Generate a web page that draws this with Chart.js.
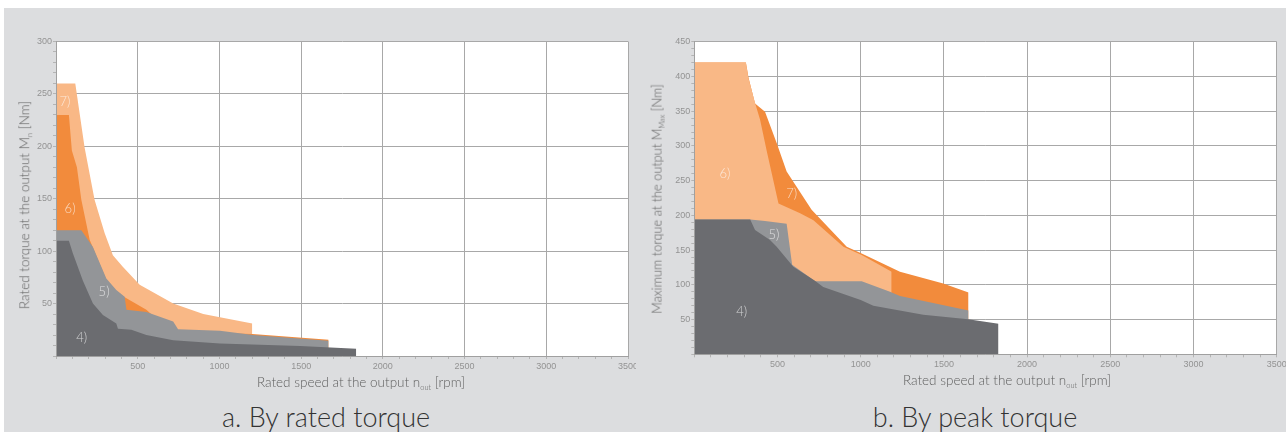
<!DOCTYPE html>
<html><head><meta charset="utf-8">
<script src="https://cdn.jsdelivr.net/npm/chart.js@4"></script>
<style>
html,body{margin:0;padding:0;background:#fff;}
body{width:1286px;height:432px;position:relative;overflow:hidden;font-family:"Liberation Sans",Arial,sans-serif;}
#bg{position:absolute;left:4px;top:8px;width:1282px;height:424px;background:#dcdddf;}
canvas{position:absolute;}
.t{position:absolute;white-space:nowrap;transform:translate(-50%,-50%);color:#606060;font-size:13.5px;line-height:1;font-family:Lato,"Liberation Sans",sans-serif;font-weight:300;}
.t sub{font-size:7.5px;vertical-align:-3px;line-height:0;}
.r{transform:translate(-50%,-50%) rotate(-90deg);}
.cap{position:absolute;white-space:nowrap;transform:translate(-50%,-50%);color:#333;font-size:27px;line-height:1;font-family:Lato,"Liberation Sans",sans-serif;font-weight:300;}
</style></head>
<body>
<div id="bg"></div>
<canvas id="c1" width="632" height="370" style="left:4px;top:8px;width:632px;height:370px"></canvas>
<canvas id="c2" width="648" height="370" style="left:638px;top:8px;width:648px;height:370px"></canvas>
<div class="t" style="left:361px;top:383px">Rated speed at the output n<sub>out</sub> [rpm]</div>
<div class="t" style="left:1007px;top:381px">Rated speed at the output n<sub>out</sub> [rpm]</div>
<div class="t r" style="left:25px;top:205px">Rated torque at the output M<sub>n</sub> [Nm]</div>
<div class="t r" style="left:657px;top:199px;font-size:12.8px">Maximum torque at the output M<sub>Max</sub> [Nm]</div>
<div class="cap" style="left:326px;top:416px">a. By rated torque</div>
<div class="cap" style="left:975px;top:416px">b. By peak torque</div>
<script>
// ---- a. By rated torque ----
const ratedS4Speed  = [0, 79, 103, 164, 226, 287, 369, 379, 461, 553, 717, 1003, 1494, 1837];
const ratedS4Torque = [110, 110, 98, 72, 50, 39, 31, 26, 25, 20, 15, 12, 9.5, 7];
const ratedS5Speed  = [0, 155, 226, 308, 369, 420, 431, 553, 717, 747, 1003, 1207, 1668];
const ratedS5Torque = [120, 120, 104, 74, 63, 56.5, 44, 42, 33, 25.5, 24, 20, 14.5];
const ratedS6Speed  = [0, 79, 97, 128, 155, 206, 240, 310, 370, 431, 553, 640, 747, 1003, 1201, 1668];
const ratedS6Torque = [230, 230, 196, 180, 149, 111, 98, 72, 61, 55, 44, 32, 24, 22, 21, 15.5];
const ratedS7Speed  = [0, 118, 175, 236, 298, 348, 410, 512, 717, 901, 1003, 1201];
const ratedS7Torque = [260, 260, 199, 149, 117, 96, 85, 68, 50, 40, 37, 31];

// ---- b. By peak torque ----
const peakS4Speed  = [0, 336, 365, 455, 495, 595, 725, 775, 1000, 1076, 1376, 1646, 1828];
const peakS4Torque = [194, 194, 179, 164.5, 155, 126, 106, 97, 78, 70, 57, 50.5, 44];
const peakS5Speed  = [0, 336, 425, 555, 588, 726, 1006, 1176, 1236, 1648];
const peakS5Torque = [194, 194, 192, 188, 129, 105, 105, 90, 84, 63];
const peakS6Speed  = [0, 310, 326, 366, 395, 436, 506, 636, 716, 896, 1006, 1186];
const peakS6Torque = [420, 420, 397, 361, 338, 292, 217, 203, 193, 155, 143, 119];
const peakS7Speed  = [0, 310, 326, 365, 425, 495, 555, 705, 916, 1006, 1236, 1496, 1648];
const peakS7Torque = [420, 420, 398, 361, 349, 304, 263, 208, 155, 145, 119, 102, 89];

const seriesNames = ['4)', '5)', '6)', '7)'];
const xTickStep = 500, xMinorStep = 100, xMax = 3500;
const yTickStep = 50, yMinorStep = 10;
const ratedYMax = 300, peakYMax = 450;

const DG = '#6b6c70', MG = '#939598', DO = '#f28b3c', LO = '#f9b886';

function pts(xs, ys){ return xs.map((x,i)=>({x:x, y:ys[i]})); }

const bgPlugin = {
  id:'plotBg',
  beforeDraw(chart){
    const a = chart.chartArea, c = chart.ctx;
    c.save(); c.fillStyle = '#fff'; c.fillRect(a.left, a.top, a.right-a.left, a.bottom-a.top); c.restore();
  }
};
const notePlugin = {
  id:'notes',
  afterDatasetsDraw(chart, args, opts){
    const c = chart.ctx, xs = chart.scales.x, ys = chart.scales.y;
    c.save();
    c.font = '300 13px Lato, "Liberation Sans", Arial, sans-serif';
    c.fillStyle = 'rgba(255,255,255,0.68)';
    c.textAlign = 'center'; c.textBaseline = 'middle';
    (opts.items||[]).forEach(n=>{ c.fillText(n.text, xs.getPixelForValue(n.x), ys.getPixelForValue(n.y)); });
    c.restore();
  }
};

function makeChart(id, sets, yMax, geo, notes){
  const colors = [DG, MG, sets.c6, sets.c7];
  const data = [sets.s4, sets.s5, sets.s6, sets.s7];
  const tickFont = {size:9, family:'"Liberation Sans", Arial, sans-serif'};
  return new Chart(document.getElementById(id), {
    type:'line',
    data:{ datasets: data.map((d,i)=>({
      label: seriesNames[i], data: d, fill:'origin', backgroundColor: colors[i],
      borderColor:'rgba(0,0,0,0)', borderWidth:0, pointRadius:0, tension:0
    })) },
    options:{
      responsive:false, animation:false, devicePixelRatio:1,
      layout:{ padding:{ top:geo.top, right:geo.right, left:0, bottom:0 } },
      plugins:{ legend:{display:false}, tooltip:{enabled:false}, notes:{items:notes} },
      scales:{
        x:{
          type:'linear', min:0, max:xMax,
          ticks:{ stepSize:xMinorStep, autoSkip:false, maxRotation:0, minRotation:0, color:'#939393',
            font:tickFont, padding:2,
            callback:v => (v % xTickStep === 0 && v > 0) ? String(v) : '' },
          grid:{ color:c => (c.tick && c.tick.value % xTickStep === 0) ? '#a8a8a8' : 'rgba(0,0,0,0)',
            tickColor:'#b4b4b4', tickLength:3, lineWidth:1 },
          border:{ color:'#a0a0a0', z:1 },
          afterFit:s => { s.height = geo.xh; s.paddingLeft = 0; s.paddingRight = 0; }
        },
        y:{
          type:'linear', min:0, max:yMax,
          ticks:{ stepSize:yMinorStep, autoSkip:false, color:'#939393',
            font:tickFont, padding:1,
            callback:v => (v % yTickStep === 0 && v > 0) ? String(v) : '' },
          grid:{ color:c => (c.tick && c.tick.value % yTickStep === 0) ? '#a8a8a8' : 'rgba(0,0,0,0)',
            tickColor:'#b4b4b4', tickLength:3, lineWidth:1 },
          border:{ color:'#a0a0a0', z:1 },
          afterFit:s => { s.width = geo.yw; s.paddingTop = 0; s.paddingBottom = 0; }
        }
      }
    },
    plugins:[bgPlugin, notePlugin]
  });
}

makeChart('c1', {
  s4: pts(ratedS4Speed, ratedS4Torque), s5: pts(ratedS5Speed, ratedS5Torque),
  s6: pts(ratedS6Speed, ratedS6Torque), s7: pts(ratedS7Speed, ratedS7Torque),
  c6: DO, c7: LO
}, ratedYMax, {top:33.5, right:8, yw:52, xh:22}, [
  {text:'7)', x:55, y:242}, {text:'6)', x:86, y:140}, {text:'5)', x:294, y:61}, {text:'4)', x:157, y:17}
]);

makeChart('c2', {
  s4: pts(peakS4Speed, peakS4Torque), s5: pts(peakS5Speed, peakS5Torque),
  s6: pts(peakS6Speed, peakS6Torque), s7: pts(peakS7Speed, peakS7Torque),
  c6: LO, c7: DO
}, peakYMax, {top:33.7, right:9.3, yw:56.3, xh:23.7}, [
  {text:'6)', x:184, y:260}, {text:'7)', x:585, y:231}, {text:'5)', x:479, y:172}, {text:'4)', x:285, y:61}
]);
</script>
</body></html>
